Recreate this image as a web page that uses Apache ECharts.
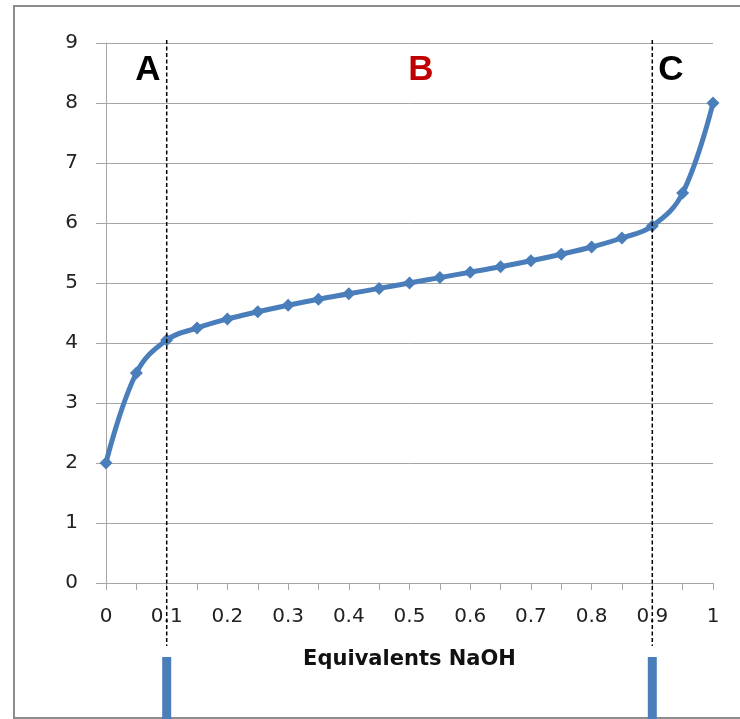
<!DOCTYPE html>
<html>
<head>
    <meta charset="utf-8">
    <title>Titration curve</title>
    <script src="https://cdn.jsdelivr.net/npm/echarts@6/dist/echarts.min.js"></script>
    <style>
        body { margin: 0; background: #fff; }
        #chart { width: 740px; height: 719px; }
    </style>
</head>
<body>
<div id="chart"></div>
<script>
// equivalents of NaOH added (category axis, one point every 0.05)
const equivalents = ['0','0.05','0.1','0.15','0.2','0.25','0.3','0.35','0.4','0.45','0.5',
                     '0.55','0.6','0.65','0.7','0.75','0.8','0.85','0.9','0.95','1'];
// pH
const phValues = [2.0, 3.5, 4.05, 4.25, 4.4, 4.52, 4.63, 4.73, 4.82, 4.91, 5.0,
                  5.09, 5.18, 5.27, 5.37, 5.48, 5.6, 5.75, 5.95, 6.5, 8.0];
// region boundaries
const boundaries = ['0.1', '0.9'];
const regionLabels = [
    { text: 'A', x: 148, color: '#000' },
    { text: 'B', x: 421, color: '#c00000' },
    { text: 'C', x: 671, color: '#000' }
];

const gridColor = '#a6a6a6';
const chart = echarts.init(document.getElementById('chart'));

chart.setOption({
    animation: false,
    grid: { left: 106, right: 27, top: 43, bottom: 136 },
    xAxis: {
        type: 'category',
        data: equivalents,
        boundaryGap: false,
        name: 'Equivalents NaOH',
        nameLocation: 'middle',
        nameGap: 66,
        nameTextStyle: { fontFamily: 'DejaVu Sans', fontWeight: 'bold', fontSize: 21, color: '#111' },
        axisLine: { lineStyle: { color: gridColor } },
        axisTick: { interval: 0, length: 7, lineStyle: { color: gridColor } },
        axisLabel: { interval: 1, margin: 24, fontFamily: 'DejaVu Sans', fontSize: 20, color: '#222' },
        splitLine: { show: false }
    },
    yAxis: {
        type: 'value',
        min: 0, max: 9, interval: 1,
        axisLine: { show: true, lineStyle: { color: gridColor } },
        axisTick: { show: true, length: 10, lineStyle: { color: gridColor } },
        axisLabel: { margin: 28, fontFamily: 'DejaVu Sans', fontSize: 20, color: '#222' },
        splitLine: { lineStyle: { color: gridColor } }
    },
    series: [{
        type: 'line',
        data: phValues,
        smooth: 0.4,
        symbol: 'diamond',
        symbolSize: 13,
        lineStyle: { color: '#4a7ebb', width: 5 },
        itemStyle: { color: '#4a7ebb' }
    }]
});

// decorations placed from the axis scale
const elements = [
    { type: 'rect', shape: { x: 14, y: 6, width: 760, height: 712 }, style: { fill: 'none', stroke: '#8c8c8c', lineWidth: 2 }, z: 0 }
];
boundaries.forEach(b => {
    const px = chart.convertToPixel({ xAxisIndex: 0 }, b);
    elements.push({
        type: 'line',
        shape: { x1: px, y1: 40, x2: px, y2: 646 },
        style: { stroke: '#000', lineWidth: 1.5, lineDash: [4, 2.5] },
        z: 10
    });
    elements.push({
        type: 'rect',
        shape: { x: px - 4.5, y: 657, width: 9, height: 70 },
        style: { fill: '#4a7ebb' },
        z: 10
    });
});
regionLabels.forEach(r => {
    elements.push({
        type: 'text',
        x: r.x, y: 70,
        style: {
            text: r.text, fill: r.color,
            font: 'bold 35px "Liberation Sans", Arial, sans-serif',
            align: 'center', verticalAlign: 'middle'
        },
        z: 10
    });
});
chart.setOption({ graphic: elements });

window.addEventListener('resize', () => chart.resize());
</script>
</body>
</html>
